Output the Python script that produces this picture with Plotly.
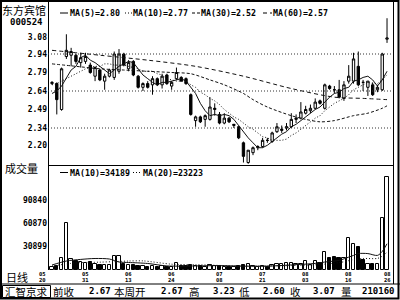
import plotly.graph_objects as go

# ---------------- data ----------------
date_month = ["05", "05", "06", "06", "07", "07", "08", "08", "08"]
date_day = ["20", "31", "13", "24", "08", "21", "03", "16", "26"]
date_idx = [0, 7, 16, 25, 35, 44, 53, 62, 70]

opens = [2.70, 2.70, 2.49, 2.92, 2.93, 2.93, 2.87, 2.88, 2.85, 2.76,
         2.81, 2.72, 2.76, 2.75, 2.80, 2.94, 2.82, 2.88, 2.76, 2.67,
         2.70, 2.69, 2.74, 2.69, 2.77, 2.68, 2.74, 2.75, 2.74, 2.61,
         2.40, 2.43, 2.41, 2.41, 2.49, 2.45, 2.38, 2.42, 2.36, 2.35,
         2.22, 2.06, 2.14, 2.18, 2.19, 2.24, 2.23, 2.31, 2.32, 2.34,
         2.35, 2.41, 2.42, 2.46, 2.48, 2.50, 2.56, 2.50, 2.68, 2.65,
         2.65, 2.58, 2.72, 2.72, 2.84, 2.71, 2.67, 2.69, 2.65, 2.65, 3.06]
highs = [2.72, 2.71, 2.83, 3.10, 2.99, 2.94, 2.95, 2.95, 2.87, 2.84,
         2.82, 2.78, 2.82, 2.96, 2.98, 2.95, 2.89, 2.89, 2.77, 2.71,
         2.72, 2.76, 2.75, 2.78, 2.78, 2.72, 2.83, 2.76, 2.75, 2.62,
         2.44, 2.44, 2.45, 2.59, 2.54, 2.47, 2.46, 2.43, 2.37, 2.36,
         2.23, 2.16, 2.19, 2.20, 2.26, 2.26, 2.31, 2.38, 2.36, 2.38,
         2.46, 2.45, 2.55, 2.52, 2.53, 2.58, 2.57, 2.70, 2.69, 2.68,
         2.73, 2.72, 2.85, 2.95, 2.96, 2.73, 2.72, 2.71, 2.69, 2.95, 3.23]
lows = [2.69, 2.45, 2.48, 2.90, 2.84, 2.86, 2.83, 2.86, 2.78, 2.72,
        2.72, 2.65, 2.75, 2.73, 2.78, 2.84, 2.80, 2.76, 2.66, 2.64,
        2.66, 2.61, 2.68, 2.66, 2.69, 2.65, 2.73, 2.72, 2.69, 2.44,
        2.35, 2.38, 2.35, 2.40, 2.44, 2.37, 2.37, 2.38, 2.34, 2.25,
        2.06, 2.05, 2.12, 2.16, 2.18, 2.22, 2.22, 2.30, 2.30, 2.32,
        2.34, 2.38, 2.41, 2.45, 2.46, 2.49, 2.53, 2.49, 2.65, 2.62,
        2.58, 2.56, 2.70, 2.70, 2.68, 2.64, 2.60, 2.60, 2.63, 2.64, 3.03]
closes = [2.71, 2.57, 2.82, 2.97, 2.96, 2.88, 2.91, 2.92, 2.79, 2.83,
          2.73, 2.76, 2.81, 2.94, 2.94, 2.85, 2.87, 2.77, 2.67, 2.70,
          2.67, 2.74, 2.69, 2.76, 2.70, 2.71, 2.79, 2.72, 2.70, 2.45,
          2.43, 2.39, 2.44, 2.51, 2.50, 2.38, 2.42, 2.39, 2.37, 2.26,
          2.11, 2.16, 2.18, 2.19, 2.24, 2.24, 2.30, 2.35, 2.33, 2.35,
          2.41, 2.42, 2.47, 2.49, 2.50, 2.55, 2.54, 2.69, 2.66, 2.65,
          2.59, 2.69, 2.76, 2.90, 2.69, 2.71, 2.72, 2.61, 2.67, 2.94, 3.07]
volumes = [3900, 5200, 15600, 61200, 14300, 11700, 10400, 9100, 9800, 7800,
           6500, 6500, 6500, 18200, 18200, 7800, 6500, 6500, 5200, 5200,
           3900, 5200, 3900, 5200, 3900, 3900, 9100, 5200, 5200, 6500,
           5200, 5200, 3900, 6500, 5200, 5200, 3900, 3900, 3900, 5200,
           6500, 7800, 5200, 3900, 5200, 3900, 6500, 7800, 7800, 9100,
           9100, 7800, 7800, 11700, 6500, 11700, 9100, 23500, 15600, 16900,
           15600, 15600, 41700, 33900, 30000, 13000, 7800, 7800, 7800, 67800, 121200]

ma5 = [2.62, 2.64, 2.68, 2.75, 2.81, 2.84, 2.91, 2.93, 2.89, 2.87,
       2.84, 2.81, 2.78, 2.81, 2.84, 2.86, 2.88, 2.87, 2.82, 2.77,
       2.74, 2.71, 2.69, 2.71, 2.71, 2.72, 2.73, 2.74, 2.72, 2.67,
       2.62, 2.54, 2.48, 2.44, 2.45, 2.44, 2.45, 2.44, 2.41, 2.36,
       2.31, 2.26, 2.22, 2.18, 2.18, 2.20, 2.23, 2.26, 2.29, 2.31,
       2.35, 2.37, 2.40, 2.43, 2.46, 2.49, 2.51, 2.55, 2.59, 2.62,
       2.63, 2.66, 2.67, 2.72, 2.73, 2.75, 2.76, 2.73, 2.68, 2.73, 2.80]
ma10 = [2.69, 2.70, 2.72, 2.74, 2.76, 2.78, 2.80, 2.82, 2.83, 2.84,
        2.84, 2.86, 2.86, 2.85, 2.85, 2.85, 2.84, 2.83, 2.82, 2.80,
        2.80, 2.80, 2.78, 2.77, 2.74, 2.73, 2.72, 2.72, 2.72, 2.69,
        2.67, 2.63, 2.61, 2.58, 2.56, 2.53, 2.49, 2.46, 2.43, 2.41,
        2.38, 2.35, 2.33, 2.30, 2.27, 2.26, 2.24, 2.24, 2.24, 2.25,
        2.28, 2.30, 2.33, 2.36, 2.39, 2.42, 2.44, 2.48, 2.51, 2.54,
        2.56, 2.58, 2.61, 2.65, 2.67, 2.69, 2.71, 2.70, 2.70, 2.73, 2.77]
ma30_idx = [0, 5, 10, 15, 20, 25, 29, 33, 36, 40, 42, 45, 50, 53, 56, 59, 63, 66, 69, 70]
ma30 = [2.86, 2.84, 2.82, 2.81, 2.80, 2.79, 2.78, 2.73, 2.69, 2.62,
        2.57, 2.51, 2.44, 2.41, 2.39, 2.40, 2.44, 2.46, 2.50, 2.52]
ma60_idx = [0, 10, 20, 30, 40, 50, 59, 65, 70]
ma60 = [2.97, 2.93, 2.89, 2.84, 2.76, 2.66, 2.59, 2.58, 2.57]

vma10_idx = [0, 3, 6, 9, 12, 14, 16, 20, 24, 30, 35, 40, 45, 50, 55, 57, 60, 62, 63, 64, 66, 68, 69, 70]
vma10 = [6500, 11700, 13800, 15000, 14300, 10400, 9800, 8500, 5300, 5300, 5700, 5000,
         5000, 6600, 8600, 10400, 12600, 16800, 19000, 21400, 21400, 19000, 24100, 34189]
vma20_idx = [0, 5, 10, 13, 16, 19, 25, 30, 40, 50, 55, 60, 63, 65, 68, 69, 70]
vma20 = [5200, 9300, 10200, 10900, 11700, 11900, 7600, 6900, 5200, 5800, 6800,
         9600, 13400, 15000, 15100, 18000, 23223]

price_ticks = [3.08, 2.94, 2.79, 2.64, 2.49, 2.34, 2.20]
price_grid = [2.94, 2.64, 2.34]
vol_ticks = [90840, 60870, 30899]

stock_name = "东方宾馆"
stock_code = "000524"
price_legend = ["MA(5)=2.80", "MA(10)=2.77", "MA(30)=2.52", "MA(60)=2.57"]
vol_legend = ["MA(10)=34189", "MA(20)=23223"]
status_labels = ["前收", "本周开", "高", "低", "收", "量"]
status_values = ["2.67", "2.67", "3.23", "2.60", "3.07", "210160"]

# ---------------- geometry ----------------
W, H = 400, 300
PX0, PX1 = 48, 393
PRICE_TOP, PRICE_BOT = 2, 165
VOL_TOP, VOL_BOT = 165, 270
FIRST_X, PITCH = 52, 4.786
P_REF_Y, P_REF, P_SCALE = 54, 2.94, 123.33
V_SCALE = 29970 / 23.0

MONO = "DejaVu Sans Mono"
CJK = "Noto Sans CJK SC"


def fx(x):
    return x / W


def fy(y):
    return 1 - y / H


n = len(closes)
idx = list(range(n))
x_range = [(PX0 - FIRST_X) / PITCH, (PX1 - FIRST_X) / PITCH]
price_range = [P_REF - (PRICE_BOT - P_REF_Y) / P_SCALE, P_REF + (P_REF_Y - PRICE_TOP) / P_SCALE]
vol_range = [0, (VOL_BOT - VOL_TOP) * V_SCALE]

fig = go.Figure()

fig.add_trace(go.Candlestick(
    x=idx, open=opens, high=highs, low=lows, close=closes,
    increasing=dict(line=dict(color="black", width=1), fillcolor="white"),
    decreasing=dict(line=dict(color="black", width=1), fillcolor="black"),
    xaxis="x", yaxis="y", hoverinfo="skip", showlegend=False))

fig.add_trace(go.Scatter(x=idx, y=ma5, mode="lines", line=dict(color="#111", width=1),
                         xaxis="x", yaxis="y", hoverinfo="skip", showlegend=False))
fig.add_trace(go.Scatter(x=idx, y=ma10, mode="lines",
                         line=dict(color="#111", width=1, dash="1px,2px"),
                         xaxis="x", yaxis="y", hoverinfo="skip", showlegend=False))
fig.add_trace(go.Scatter(x=ma30_idx, y=ma30, mode="lines",
                         line=dict(color="#111", width=1, dash="3px,2px", shape="spline", smoothing=0.8),
                         xaxis="x", yaxis="y", hoverinfo="skip", showlegend=False))
fig.add_trace(go.Scatter(x=ma60_idx, y=ma60, mode="lines",
                         line=dict(color="#111", width=1, dash="4px,3px", shape="spline", smoothing=0.8),
                         xaxis="x", yaxis="y", hoverinfo="skip", showlegend=False))

vol_colors = ["white" if c > o else "black" for o, c in zip(opens, closes)]
fig.add_trace(go.Bar(x=idx, y=volumes, width=0.7,
                     marker=dict(color=vol_colors, line=dict(color="black", width=1)),
                     xaxis="x2", yaxis="y2", hoverinfo="skip", showlegend=False))
fig.add_trace(go.Scatter(x=vma10_idx, y=vma10, mode="lines",
                         line=dict(color="#111", width=1, shape="spline", smoothing=0.8),
                         xaxis="x2", yaxis="y2", hoverinfo="skip", showlegend=False))
fig.add_trace(go.Scatter(x=vma20_idx, y=vma20, mode="lines",
                         line=dict(color="#111", width=1, dash="1px,2px", shape="spline", smoothing=0.8),
                         xaxis="x2", yaxis="y2", hoverinfo="skip", showlegend=False))

tickfont = dict(family=MONO, size=8, color="black", weight="bold")
hidden_x = dict(showticklabels=False, showgrid=False, zeroline=False, showline=False,
                ticks="", range=x_range, domain=[fx(PX0), fx(PX1)], fixedrange=True)

fig.update_layout(
    width=W, height=H, margin=dict(l=0, r=0, t=0, b=0),
    paper_bgcolor="white", plot_bgcolor="white", showlegend=False,
    hovermode=False, bargap=0,
    xaxis=dict(**hidden_x, anchor="y", rangeslider=dict(visible=False)),
    xaxis2=dict(**hidden_x, anchor="y2"),
    yaxis=dict(domain=[fy(PRICE_BOT), fy(PRICE_TOP)], range=price_range, anchor="x",
               tickvals=price_ticks, ticktext=["%.2f" % v for v in price_ticks],
               showgrid=False, zeroline=False, showline=False, ticks="",
               tickfont=tickfont, automargin=False, fixedrange=True),
    yaxis2=dict(domain=[fy(VOL_BOT), fy(VOL_TOP)], range=vol_range, anchor="x2",
                tickvals=vol_ticks, ticktext=[str(v) for v in vol_ticks],
                showgrid=False, zeroline=False, showline=False, ticks="",
                tickfont=tickfont, automargin=False, fixedrange=True),
)

shapes = []


def seg(x0, y0, x1, y1, width=1, dash="solid", color="black"):
    shapes.append(dict(type="line", xref="paper", yref="paper",
                       x0=fx(x0), y0=fy(y0), x1=fx(x1), y1=fy(y1),
                       line=dict(color=color, width=width, dash=dash)))


# frames
shapes.append(dict(type="rect", xref="paper", yref="paper", x0=fx(1), y0=fy(1), x1=fx(398.5), y1=fy(298.5),
                   line=dict(color="black", width=2)))
seg(393.5, 1, 393.5, 284)
seg(48.5, 1, 48.5, 270)
seg(48, 165.5, 393.5, 165.5)
seg(0, 284, 400, 284)
shapes.append(dict(type="rect", xref="paper", yref="paper", x0=fx(2.5), y0=fy(285.5), x1=fx(50.5), y1=fy(297.5),
                   line=dict(color="black", width=1)))
# price grid (dotted)
for g in price_grid:
    shapes.append(dict(type="line", xref="paper", yref="y", x0=fx(PX0), x1=fx(PX1), y0=g, y1=g,
                       line=dict(color="#333", width=1, dash="1px,2px")))
# legend line samples
seg(60, 13, 68, 13)
seg(125, 13, 132, 13, dash="1px,2px")
seg(192, 13, 200, 13, dash="3px,2px")
seg(263, 13, 272, 13, dash="4px,3px")
seg(60, 172.5, 68, 172.5)
seg(133, 172.5, 142, 172.5, dash="1px,2px")
fig.update_layout(shapes=shapes)

ann = []


def text(t, x, y, size, family=MONO, xanchor="left", bold=True):
    f = dict(family=family, size=size, color="black")
    if bold:
        f["weight"] = "bold"
    ann.append(dict(text=t, x=fx(x), y=fy(y), xref="paper", yref="paper", showarrow=False,
                    xanchor=xanchor, yanchor="middle", font=f, borderpad=0))


text(stock_name, 24, 10, 11, family=CJK, xanchor="center", bold=False)
text(stock_code, 26.5, 22, 9, xanchor="center")
for t, x in zip(price_legend, [69, 132, 200, 272]):
    text(t, x, 13, 8.3)
text("成交量", 21, 167.5, 11, family=CJK, xanchor="center", bold=False)
for t, x in zip(vol_legend, [69, 142]):
    text(t, x, 172.5, 8.3)
text("日线", 17, 277, 11, family=CJK, xanchor="center", bold=False)
for k, (m, d, i) in enumerate(zip(date_month, date_day, date_idx)):
    xc = FIRST_X + PITCH * i
    if k == 0:
        xc -= 10
    text(m, xc, 273.5, 5.5, xanchor="center")
    text(d, xc, 279.5, 5.5, xanchor="center")
text("汇智京求", 26.5, 291, 10.5, family=CJK, xanchor="center", bold=False)
label_x = [52, 113, 188, 238, 289, 340]
value_x = [88, 160, 212, 262, 312, 361]
for lab, lx, val, vx in zip(status_labels, label_x, status_values, value_x):
    text(lab, lx, 291, 10.5, family=CJK, bold=False)
    text(val, vx, 291, 9)
fig.update_layout(annotations=ann)

fig.write_html("out.html")
